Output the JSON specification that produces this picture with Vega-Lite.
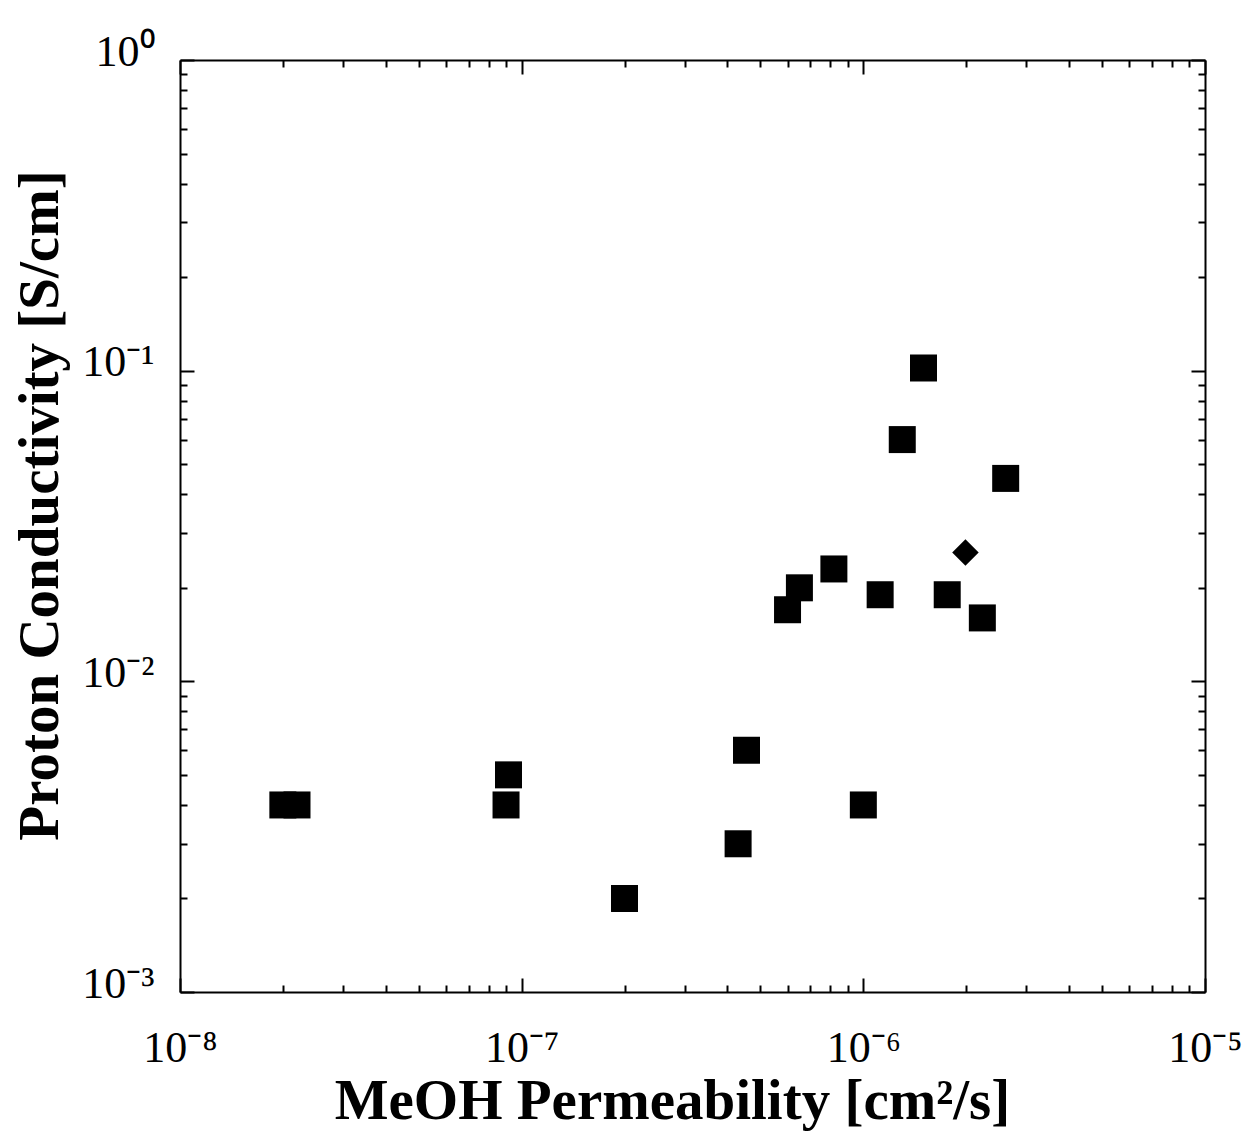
{
  "$schema": "https://vega.github.io/schema/vega-lite/v6.json",
  "autosize": "none",
  "width": 1025,
  "height": 932,
  "padding": {"left": 180, "top": 60, "right": 37, "bottom": 139},
  "background": "white",
  "config": {
    "view": {"stroke": null},
    "axis": {
      "domainColor": "black",
      "domainWidth": 2,
      "tickColor": "black",
      "tickWidth": 2,
      "grid": false,
      "labelFont": "Liberation Serif",
      "labelFontSize": 44,
      "labelColor": "black",
      "titleFont": "Liberation Serif",
      "titleFontSize": 57,
      "titleFontWeight": "bold",
      "titleColor": "black",
      "labelOverlap": false,
      "labelFlush": false
    }
  },
  "data": {
    "values": [
      {"perm": 2.0e-8, "cond": 0.004, "kind": "square"},
      {"perm": 2.2e-8, "cond": 0.004, "kind": "square"},
      {"perm": 9.0e-8, "cond": 0.004, "kind": "square"},
      {"perm": 9.15e-8, "cond": 0.005, "kind": "square"},
      {"perm": 2.0e-7, "cond": 0.002, "kind": "square"},
      {"perm": 4.3e-7, "cond": 0.003, "kind": "square"},
      {"perm": 4.55e-7, "cond": 0.006, "kind": "square"},
      {"perm": 1.0e-6, "cond": 0.004, "kind": "square"},
      {"perm": 6.0e-7, "cond": 0.017, "kind": "square"},
      {"perm": 6.5e-7, "cond": 0.020, "kind": "square"},
      {"perm": 8.2e-7, "cond": 0.023, "kind": "square"},
      {"perm": 1.12e-6, "cond": 0.019, "kind": "square"},
      {"perm": 1.76e-6, "cond": 0.019, "kind": "square"},
      {"perm": 2.23e-6, "cond": 0.016, "kind": "square"},
      {"perm": 1.30e-6, "cond": 0.060, "kind": "square"},
      {"perm": 1.50e-6, "cond": 0.102, "kind": "square"},
      {"perm": 2.61e-6, "cond": 0.045, "kind": "square"},
      {"perm": 1.99e-6, "cond": 0.026, "kind": "diamond"}
    ]
  },
  "layer": [
    {
      "transform": [{"filter": "datum.kind === 'square'"}],
      "mark": {"type": "point", "shape": "square", "filled": true, "color": "black", "opacity": 1, "size": 729},
      "encoding": {
        "x": {
          "field": "perm", "type": "quantitative",
          "scale": {"type": "log", "domain": [1e-8, 1e-5], "nice": false},
          "axis": {
            "orient": "bottom",
            "title": "MeOH Permeability [cm²/s]",
            "titleBaseline": "alphabetic",
            "titleAlign": "center",
            "titleX": 492,
            "titleY": 126,
            "values": [1e-8, 2e-8, 3e-8, 4e-8, 5e-8, 6e-8, 7e-8, 8e-8, 9e-8, 1e-7, 2e-7, 3e-7, 4e-7, 5e-7, 6e-7, 7e-7, 8e-7, 9e-7, 1e-6, 2e-6, 3e-6, 4e-6, 5e-6, 6e-6, 7e-6, 8e-6, 9e-6, 1e-5],
            "tickSize": {"condition": {"test": "abs(log(datum.value)/LN10 - round(log(datum.value)/LN10)) < 0.001", "value": -14}, "value": -7},
            "labelBaseline": "alphabetic",
            "labelPadding": 83,
            "labelExpr": "abs(datum.value/1e-8-1)<0.01 ? '10⁻⁸' : abs(datum.value/1e-7-1)<0.01 ? '10⁻⁷' : abs(datum.value/1e-6-1)<0.01 ? '10⁻⁶' : abs(datum.value/1e-5-1)<0.01 ? '10⁻⁵' : ''"
          }
        },
        "y": {
          "field": "cond", "type": "quantitative",
          "scale": {"type": "log", "domain": [1e-3, 1], "nice": false},
          "axis": {
            "orient": "left",
            "title": "Proton Conductivity [S/cm]",
            "titleAngle": -90,
            "titleBaseline": "alphabetic",
            "titleAlign": "center",
            "titleX": -123,
            "titleY": 445,
            "values": [0.001, 0.002, 0.003, 0.004, 0.005, 0.006, 0.007, 0.008, 0.009, 0.01, 0.02, 0.03, 0.04, 0.05, 0.06, 0.07, 0.08, 0.09, 0.1, 0.2, 0.3, 0.4, 0.5, 0.6, 0.7, 0.8, 0.9, 1],
            "tickSize": {"condition": {"test": "abs(log(datum.value)/LN10 - round(log(datum.value)/LN10)) < 0.001", "value": -14}, "value": -7},
            "labelBaseline": "alphabetic",
            "labelOffset": 5,
            "labelPadding": 40,
            "labelExpr": "abs(datum.value/1-1)<0.01 ? '10⁰' : abs(datum.value/0.1-1)<0.01 ? '10⁻¹' : abs(datum.value/0.01-1)<0.01 ? '10⁻²' : abs(datum.value/0.001-1)<0.01 ? '10⁻³' : ''"
          }
        }
      }
    },
    {
      "transform": [{"filter": "datum.kind === 'diamond'"}],
      "mark": {"type": "point", "shape": "diamond", "filled": true, "color": "black", "opacity": 1, "size": 700},
      "encoding": {
        "x": {
          "field": "perm", "type": "quantitative",
          "scale": {"type": "log", "domain": [1e-8, 1e-5], "nice": false},
          "axis": {
            "orient": "top",
            "title": null,
            "labels": false,
            "values": [1e-8, 2e-8, 3e-8, 4e-8, 5e-8, 6e-8, 7e-8, 8e-8, 9e-8, 1e-7, 2e-7, 3e-7, 4e-7, 5e-7, 6e-7, 7e-7, 8e-7, 9e-7, 1e-6, 2e-6, 3e-6, 4e-6, 5e-6, 6e-6, 7e-6, 8e-6, 9e-6, 1e-5],
            "tickSize": {"condition": {"test": "abs(log(datum.value)/LN10 - round(log(datum.value)/LN10)) < 0.001", "value": -14}, "value": -7}
          }
        },
        "y": {
          "field": "cond", "type": "quantitative",
          "scale": {"type": "log", "domain": [1e-3, 1], "nice": false},
          "axis": {
            "orient": "right",
            "title": null,
            "labels": false,
            "values": [0.001, 0.002, 0.003, 0.004, 0.005, 0.006, 0.007, 0.008, 0.009, 0.01, 0.02, 0.03, 0.04, 0.05, 0.06, 0.07, 0.08, 0.09, 0.1, 0.2, 0.3, 0.4, 0.5, 0.6, 0.7, 0.8, 0.9, 1],
            "tickSize": {"condition": {"test": "abs(log(datum.value)/LN10 - round(log(datum.value)/LN10)) < 0.001", "value": -14}, "value": -7}
          }
        }
      }
    }
  ],
  "resolve": {"axis": {"x": "independent", "y": "independent"}}
}
